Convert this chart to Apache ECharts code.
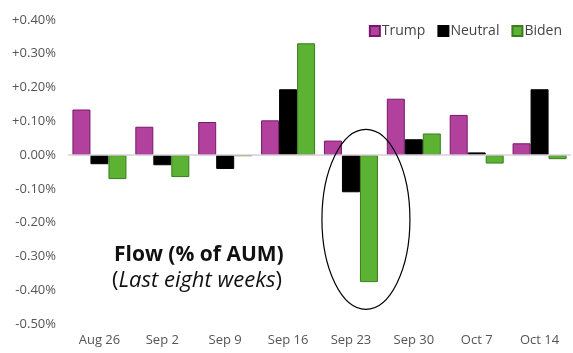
<!DOCTYPE html>
<html>
<head>
<meta charset="utf-8">
<script src="https://cdn.jsdelivr.net/npm/echarts@6/dist/echarts.min.js"></script>
<style>
  html, body { margin: 0; padding: 0; background: #fff; }
  #main { width: 573px; height: 353px; }
</style>
</head>
<body>
<div id="main"></div>
<script>
// weeks on the x axis
const weeks = ['Aug 26', 'Sep 2', 'Sep 9', 'Sep 16', 'Sep 23', 'Sep 30', 'Oct 7', 'Oct 14']
// flow, % of AUM
const trump = [0.135, 0.084, 0.098, 0.103, 0.043, 0.167, 0.119, 0.035]
const neutral = [-0.027, -0.030, -0.041, 0.195, -0.110, 0.047, 0.008, 0.195]
const biden = [-0.071, -0.065, -0.003, 0.331, -0.376, 0.064, -0.025, -0.012]
// y axis ticks
const yTicks = [-0.5, -0.4, -0.3, -0.2, -0.1, 0, 0.1, 0.2, 0.3, 0.4]

const font = '"Open Sans", "Noto Sans", sans-serif'
const chart = echarts.init(document.getElementById('main'))

function bar(name, data, color, border) {
  return {
    name: name,
    type: 'bar',
    data: data,
    barWidth: 18,
    barGap: '0%',
    itemStyle: { color: color, borderColor: border, borderWidth: 1 }
  }
}

const series = [
  bar('Trump', trump, '#b2419d', '#7a176d'),
  bar('Neutral', neutral, '#000000', '#000000'),
  bar('Biden', biden, '#5cb233', '#3a7d21')
]
// zero line
series[0].markLine = {
  silent: true,
  symbol: 'none',
  label: { show: false },
  lineStyle: { color: '#d8d0d6', type: 'solid', width: 1.5 },
  data: [{ yAxis: 0 }]
}

chart.setOption({
  animation: false,
  textStyle: { fontFamily: font },
  legend: {
    top: 19,
    right: 6,
    itemWidth: 10,
    itemHeight: 10,
    itemGap: 12,
    icon: 'rect',
    textStyle: { fontSize: 14, color: '#444', fontFamily: font, padding: [0, 0, 0, -3] },
    data: ['Trump', 'Neutral', 'Biden']
  },
  grid: { left: 68, right: 2, top: 20, bottom: 29 },
  xAxis: {
    type: 'category',
    data: weeks,
    axisLine: { show: false },
    axisTick: { show: false },
    axisLabel: { color: '#555', fontSize: 13, margin: 10 }
  },
  yAxis: {
    type: 'value',
    min: yTicks[0],
    max: yTicks[yTicks.length - 1],
    interval: 0.1,
    splitLine: { show: false },
    axisLine: { show: false },
    axisTick: { show: false },
    axisLabel: {
      color: '#555',
      fontSize: 13,
      margin: 12,
      formatter: v => {
        const s = Math.abs(v).toFixed(2) + '%'
        if (Math.abs(v) < 1e-9) return '0.00%'
        return (v > 0 ? '+' : '-') + s
      }
    }
  },
  series: series
})

// annotations: ellipse round Sep 23 and the chart caption
const c = chart.convertToPixel({ seriesIndex: 0 }, ['Sep 23', -0.19])
chart.setOption({
  graphic: [
    {
      type: 'ellipse',
      shape: { cx: c[0] + 15, cy: c[1], rx: 44, ry: 90 },
      style: { fill: 'none', stroke: '#000', lineWidth: 1.2 },
      z: 10
    },
    {
      type: 'text',
      left: 114,
      top: 245,
      style: {
        text: 'Flow (% of AUM)',
        font: 'bold 21px ' + font,
        fill: '#111'
      }
    },
    {
      type: 'text',
      left: 112,
      top: 270,
      style: {
        text: '({i|Last eight weeks})',
        font: '22px ' + font,
        fill: '#111',
        rich: { i: { fontStyle: 'italic', fontSize: 22, fontFamily: font, fill: '#111' } }
      }
    }
  ]
})
</script>
</body>
</html>
